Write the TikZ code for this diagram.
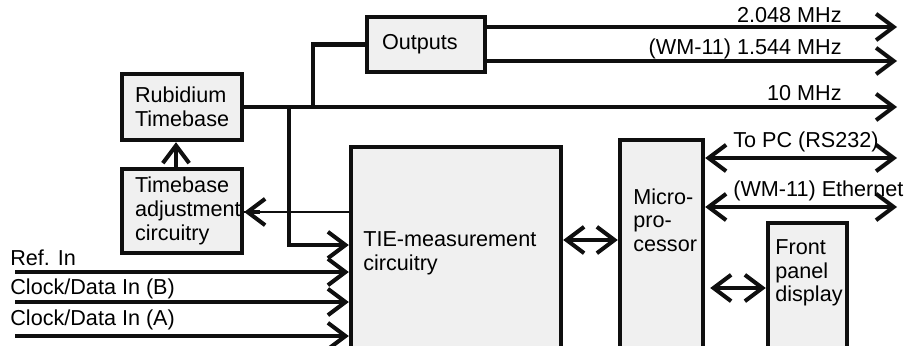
\documentclass[tikz,border=0pt]{standalone}
\usepackage{fontspec}
\setmainfont{Liberation Sans}
\usetikzlibrary{positioning,arrows.meta}
\definecolor{cfill}{RGB}{240,240,240}
\definecolor{cline}{RGB}{15,15,15}
\hfuzz=20pt

\begin{document}
\begin{tikzpicture}[
  x=0.02cm, y=-0.02cm,
  font=\fontsize{12.3}{13.5}\selectfont,
  block/.style={draw=cline, fill=cfill, line width=2.5pt, inner sep=0pt},
  txt/.style={align=left, inner sep=0pt},
  lbl/.style={inner sep=0pt},
  sig/.style={draw=cline, line width=2.3pt},
  thin sig/.style={draw=cline, line width=1.1pt},
  >={Straight Barb[length=10pt,width=15pt]}
]
\useasboundingbox (0,0) rectangle (913,345);
\clip (0,0) rectangle (913,345);

% BLOCKS
\node[block, minimum width=2.4cm, minimum height=1.32cm, text width=1.88cm,
      inner xsep=0.26cm, align=left] (rub) at (182,107) {Rubidium\\Timebase};
\node[block, minimum width=2.4cm, minimum height=1.68cm, text width=1.88cm,
      inner xsep=0.26cm, align=left] (adj) at (182,211) {Timebase\\adjustment\\circuitry};
\node[block, minimum width=2.36cm, minimum height=1.1cm, text width=1.76cm,
      inner xsep=0.3cm, align=left] (outs) at (426,44.5) {Outputs};
\node[block, minimum width=4.2cm, minimum height=4.46cm] (tie) at (456,258.5) {};
\node[txt, anchor=west] (tietxt) at (363,253.5) {TIE-measurement\\circuitry};
\node[block, minimum width=1.66cm, minimum height=4.6cm] (micro) at (661.5,255) {};
\node[txt, anchor=west] (microtxt) at (633,220) {Micro-\\pro-\\cessor};
\node[block, minimum width=1.58cm, minimum height=2.94cm] (front) at (807.5,296.5) {};
\node[txt, anchor=west] (fronttxt) at (775,273) {Front\\panel\\display};

% FREE ENDS
\coordinate (j1) at (289,107);
\coordinate (j2) at (313,107);
\coordinate (o2048) at (897,27);
\coordinate (o1544) at (897,61);
\coordinate (o10) at (897,107);
\coordinate (opc) at (897,158);
\coordinate (oeth) at (897,207);
\coordinate (inref) at (15,272);
\coordinate (inb) at (15,302);
\coordinate (ina) at (15,336);

% TIMEBASE PATHS
\draw[sig,->] (rub.east) -- (o10);
\draw[sig,->] (j1) |- (tie.west |- 0,245);
\draw[sig] (j2) |- (outs.west);
\draw[sig,->] (adj.north -| 176,0) -- (rub.south -| 176,0);
\draw[thin sig] (tie.west |- 0,212) -- (adj.east |- 0,212);
\draw[sig,->] (adj.east |- 0,212) ++(16,0) -- (adj.east |- 0,212);

% OUTPUTS
\draw[sig,->] (outs.east |- o2048) -- (o2048);
\draw[sig,->] (outs.east |- o1544) -- (o1544);

% INPUTS
\draw[sig,->] (inref) -- (tie.west |- inref);
\draw[sig,->] (inb) -- (tie.west |- inb);
\draw[sig,->] (ina) -- (tie.west |- ina);

% MICROPROCESSOR LINKS
\draw[sig,<->] (tie.east |- 0,240) -- (micro.west |- 0,240);
\draw[sig,<->] (micro.east |- opc) -- (opc);
\draw[sig,<->] (micro.east |- oeth) -- (oeth);
\draw[sig,<->, shorten <=0.1cm] (micro.east |- 0,288) -- (front.west |- 0,288);

% LABELS
\node[lbl, anchor=east] (l2048) at (842,15) {2.048 MHz};
\node[lbl, anchor=east] (l1544) at (842,49) {(WM-11) 1.544 MHz};
\node[lbl, anchor=east] (l10) at (842,93) {10 MHz};
\node[lbl, anchor=west] (lpc) at (733,142) {To PC (RS232)};
\node[lbl, anchor=west] (leth) at (733,191) {(WM-11) Ethernet};
\node[lbl, anchor=west] (lref) at (10,258) {Ref. In};
\node[lbl, anchor=west] (lb) at (10,289) {Clock/Data In (B)};
\node[lbl, anchor=west] (la) at (10,320) {Clock/Data In (A)};

\end{tikzpicture}
\end{document}
